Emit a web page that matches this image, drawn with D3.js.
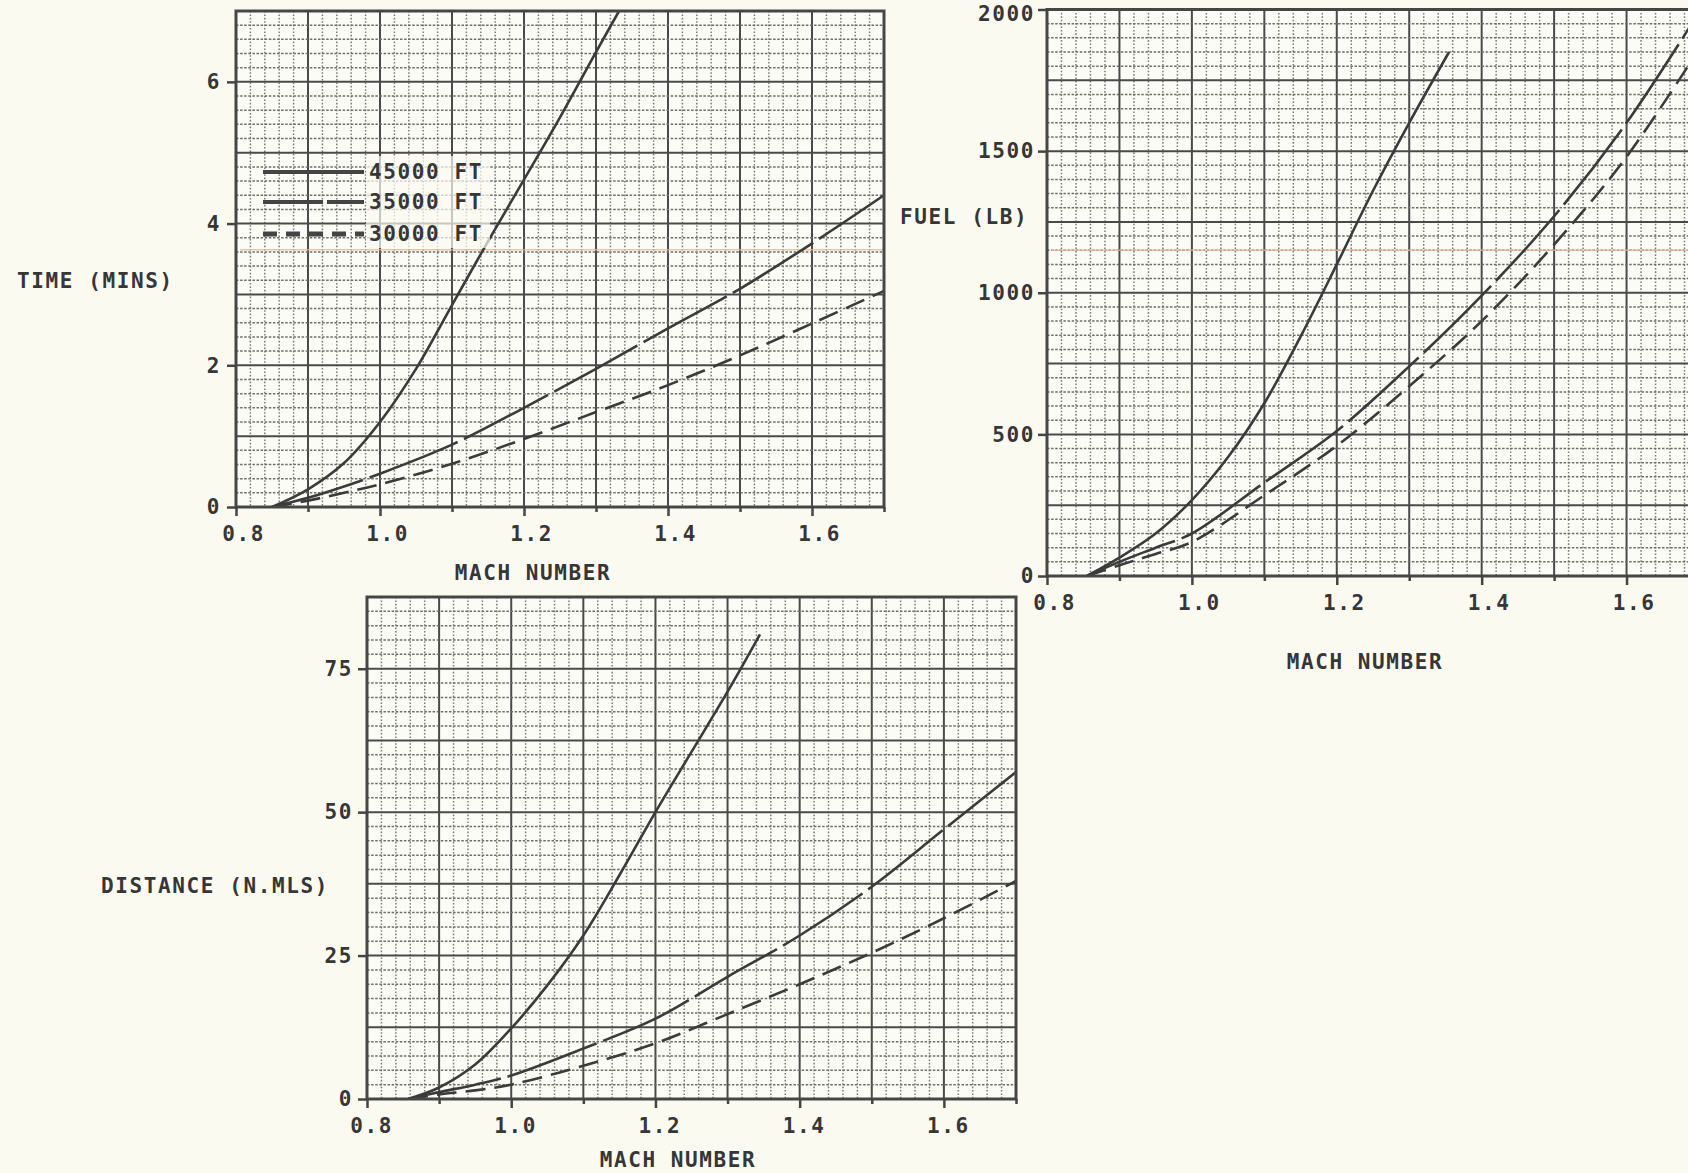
<!DOCTYPE html>
<html>
<head>
<meta charset="utf-8">
<title>Time, fuel and distance vs Mach number</title>
<script src="https://cdn.jsdelivr.net/npm/d3@7"></script>
<style>
  body { margin: 0; background: #fbfaf1; }
  svg { display: block; }
  .lbl { font-family: "DejaVu Sans Mono", monospace; font-weight: bold; font-size: 21px; letter-spacing: 1.6px; fill: #363636; }
</style>
</head>
<body>
<script>
// shared Mach axis
var machTicks = [0.8, 1.0, 1.2, 1.4, 1.6];
var machSmallTicks = [0.9, 1.1, 1.3, 1.5, 1.7];
var altLabels = ["45000 FT", "35000 FT", "30000 FT"];

var timeTicks = [0, 2, 4, 6];
var fuelTicks = [0, 500, 1000, 1500, 2000];
var distTicks = [0, 25, 50, 75];

// [mach, minutes]
var time45 = [[0.85,0],[0.9,0.25],[0.95,0.62],[1.0,1.2],[1.05,1.95],[1.1,2.85],[1.15,3.75],[1.2,4.62],[1.25,5.5],[1.3,6.42],[1.332,7.0]];
var time35 = [[0.85,0],[0.9,0.13],[0.95,0.29],[1.0,0.47],[1.1,0.88],[1.2,1.4],[1.3,1.95],[1.4,2.52],[1.5,3.08],[1.6,3.72],[1.7,4.4]];
var time30 = [[0.85,0],[0.9,0.09],[0.95,0.2],[1.0,0.32],[1.1,0.61],[1.2,0.96],[1.3,1.34],[1.4,1.72],[1.5,2.14],[1.6,2.59],[1.7,3.05]];

// [mach, lb]
var fuel45 = [[0.855,0],[0.9,65],[0.95,150],[1.0,268],[1.05,420],[1.1,610],[1.15,845],[1.2,1100],[1.25,1360],[1.3,1600],[1.355,1850]];
var fuel35 = [[0.855,0],[0.9,50],[0.95,100],[1.0,150],[1.1,330],[1.2,512],[1.3,740],[1.4,990],[1.5,1270],[1.6,1600],[1.7,1990]];
var fuel30 = [[0.855,0],[0.9,38],[0.95,78],[1.0,120],[1.1,285],[1.2,460],[1.3,670],[1.4,900],[1.5,1170],[1.6,1480],[1.7,1860]];

// [mach, n.miles]
var dist45 = [[0.857,0],[0.9,2],[0.95,6],[1.0,12.3],[1.05,19.8],[1.1,28.5],[1.15,39],[1.2,50],[1.25,60.5],[1.3,71],[1.345,81]];
var dist35 = [[0.857,0],[0.9,1.2],[0.95,2.5],[1.0,4.1],[1.1,8.8],[1.2,14],[1.3,21.3],[1.4,28.5],[1.5,37],[1.6,47],[1.7,57]];
var dist30 = [[0.857,0],[0.9,0.8],[0.95,1.5],[1.0,2.5],[1.1,5.8],[1.2,9.7],[1.3,14.8],[1.4,20],[1.5,25.5],[1.6,31.5],[1.7,38]];

var dashes = [null, "95,7", "20,9"];

var svg = d3.select("body").append("svg")
  .attr("width", 1688)
  .attr("height", 1173);

svg.append("rect").attr("width", 1688).attr("height", 1173).attr("fill", "#fbfaf1");

function panel(p) {
  var x = d3.scaleLinear().domain([0.8, 1.7]).range([p.left, p.right]);
  var y = d3.scaleLinear().domain([0, p.ymax]).range([p.bottom, p.top]);
  var g = svg.append("g");

  g.append("clipPath").attr("id", "clip" + p.id)
    .append("rect")
    .attr("x", p.left).attr("y", p.top)
    .attr("width", p.right - p.left).attr("height", p.bottom - p.top);

  g.append("rect")
    .attr("x", p.left).attr("y", p.top)
    .attr("width", p.right - p.left).attr("height", p.bottom - p.top)
    .attr("fill", "#fcfcf7");

  // graph paper
  var gx = d3.range(0, 46).map(function(i) { return 0.8 + i * 0.02; });
  var ny = Math.round(p.ymax / p.yminor);
  var gy = d3.range(0, ny + 1).map(function(i) { return i * p.yminor; });

  g.selectAll(".vmin").data(gx).enter().append("line")
    .attr("x1", function(d) { return x(d); }).attr("x2", function(d) { return x(d); })
    .attr("y1", p.top).attr("y2", p.bottom)
    .attr("stroke", function(d, i) { return i % 5 == 0 ? "#4a4a4a" : "#7c7c78"; })
    .attr("stroke-width", function(d, i) { return i % 5 == 0 ? 2 : 1.5; })
    .attr("stroke-dasharray", function(d, i) { return i % 5 == 0 ? null : "1.6,1.8"; });

  g.selectAll(".hmin").data(gy).enter().append("line")
    .attr("y1", function(d) { return y(d); }).attr("y2", function(d) { return y(d); })
    .attr("x1", p.left).attr("x2", p.right)
    .attr("stroke", function(d, i) { return i % 5 == 0 ? "#4a4a4a" : "#6e6e6a"; })
    .attr("stroke-width", function(d, i) { return i % 5 == 0 ? 2 : 1.5; })
    .attr("stroke-dasharray", function(d, i) { return i % 5 == 0 ? null : "2.5,1.6"; });

  // faint red scan line
  if (p.scan != null) {
    g.append("line")
      .attr("x1", p.left + 4).attr("x2", p.right)
      .attr("y1", y(p.scan)).attr("y2", y(p.scan))
      .attr("stroke", "#f0b49c").attr("stroke-width", 1.5).attr("opacity", 0.8);
  }

  var line = d3.line()
    .x(function(d) { return x(d[0]); })
    .y(function(d) { return y(d[1]); })
    .curve(d3.curveCatmullRom.alpha(0.5));

  g.append("g").attr("clip-path", "url(#clip" + p.id + ")")
    .selectAll("path").data(p.series).enter().append("path")
    .attr("d", line)
    .attr("fill", "none")
    .attr("stroke", "#3b3b3b")
    .attr("stroke-width", 2.6)
    .attr("stroke-dasharray", function(d, i) { return dashes[i]; });

  // frame
  g.append("rect")
    .attr("x", p.left).attr("y", p.top)
    .attr("width", p.right - p.left).attr("height", p.bottom - p.top)
    .attr("fill", "none").attr("stroke", "#464646").attr("stroke-width", 3);

  // axes
  var xa = g.append("g").attr("transform", "translate(0," + p.bottom + ")")
    .call(d3.axisBottom(x).tickValues(machTicks).tickFormat(d3.format(".1f")).tickSize(9).tickPadding(10));
  var xs = g.append("g").attr("transform", "translate(0," + p.bottom + ")")
    .call(d3.axisBottom(x).tickValues(machSmallTicks).tickFormat("").tickSize(5));
  var ya = g.append("g").attr("transform", "translate(" + p.left + ",0)")
    .call(d3.axisLeft(y).tickValues(p.ticks).tickFormat(d3.format("d")).tickSize(9));

  [xa, xs, ya].forEach(function(a) {
    a.select(".domain").remove();
    a.selectAll(".tick line").attr("stroke", "#444").attr("stroke-width", 2.5);
  });
  xa.selectAll("text").attr("class", "lbl").attr("dx", p.xdx);
  ya.selectAll("text").attr("class", "lbl").attr("x", -p.ygap)
    .attr("dy", "0.32em")
    .attr("y", function(d) { return y(d) - 9 < 2 ? 4 : 0; });

  g.append("text").attr("class", "lbl")
    .attr("x", p.xtitle[0]).attr("y", p.xtitle[1])
    .attr("text-anchor", "middle").text("MACH NUMBER");
  g.append("text").attr("class", "lbl")
    .attr("x", p.ytitle[0]).attr("y", p.ytitle[1])
    .text(p.ylabel);

  return { x: x, y: y, g: g };
}

var p1 = panel({ id: 1, left: 236, right: 884, top: 11, bottom: 507, ymax: 7, yminor: 0.2,
  ticks: timeTicks, series: [time45, time35, time30], scan: 3.63,
  ylabel: "TIME (MINS)", ytitle: [17, 288], xtitle: [533, 580], xdx: 7, ygap: 15 });

var p2 = panel({ id: 2, left: 1047, right: 1699, top: 9.5, bottom: 576, ymax: 2000, yminor: 50,
  ticks: fuelTicks, series: [fuel45, fuel35, fuel30], scan: 1150,
  ylabel: "FUEL (LB)", ytitle: [900, 224], xtitle: [1365, 669], xdx: 7, ygap: 12 });

var p3 = panel({ id: 3, left: 367, right: 1016, top: 597, bottom: 1099, ymax: 87.5, yminor: 2.5,
  ticks: distTicks, series: [dist45, dist35, dist30], scan: null,
  ylabel: "DISTANCE (N.MLS)", ytitle: [101, 893], xtitle: [678, 1167], xdx: 4, ygap: 14 });

// legend on the time panel
var leg = p1.g.append("g");
leg.append("rect").attr("x", 366).attr("y", 156).attr("width", 124).attr("height", 92)
  .attr("fill", "#fbfaf1").attr("opacity", 0.7);
var legDash = [null, "60,4", "14,9"];
var legY = [172, 202, 234];
altLabels.forEach(function(t, i) {
  leg.append("line")
    .attr("x1", 263).attr("x2", 364).attr("y1", legY[i]).attr("y2", legY[i])
    .attr("stroke", "#444").attr("stroke-width", i == 2 ? 5 : 4)
    .attr("stroke-dasharray", legDash[i]);
  leg.append("text").attr("class", "lbl")
    .attr("x", 369).attr("y", legY[i] + 7).text(t);
});
</script>
</body>
</html>
